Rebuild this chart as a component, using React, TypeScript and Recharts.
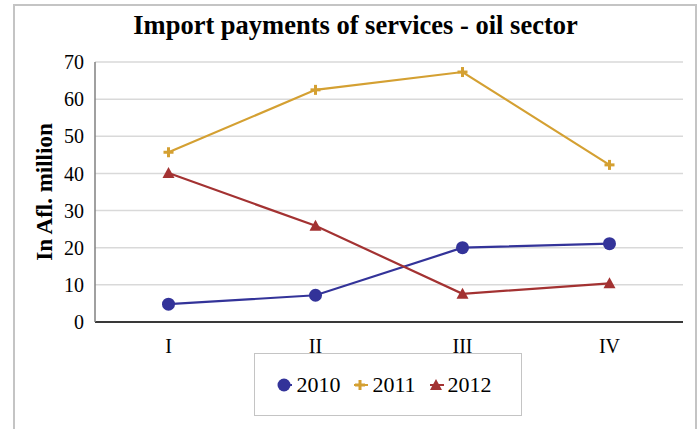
import { LineChart, Line, XAxis, YAxis, CartesianGrid } from "recharts"

const quarters = ["I", "II", "III", "IV"]
const values2010 = [4.8, 7.2, 20.0, 21.1]
const values2011 = [45.7, 62.5, 67.3, 42.3]
const values2012 = [40.1, 25.9, 7.6, 10.4]
const yTicks = [0, 10, 20, 30, 40, 50, 60, 70]

const data = quarters.map((q, i) => ({
  quarter: q,
  y2010: values2010[i],
  y2011: values2011[i],
  y2012: values2012[i],
}))

const BLUE = "#333399"
const GOLD = "#D4A032"
const RED = "#A33232"
const FONT = "'Liberation Serif', 'Times New Roman', serif"

const CircleDot = (props: any) => {
  const { cx, cy } = props
  if (cx == null || cy == null) return null
  return <circle cx={cx} cy={cy} r={6.5} fill={BLUE} />
}

const PlusDot = (props: any) => {
  const { cx, cy } = props
  if (cx == null || cy == null) return null
  return (
    <g fill={GOLD}>
      <rect x={cx - 5} y={cy - 1.5} width={10} height={3} />
      <rect x={cx - 1.5} y={cy - 5} width={3} height={10} />
    </g>
  )
}

const TriangleDot = (props: any) => {
  const { cx, cy } = props
  if (cx == null || cy == null) return null
  return <path d={`M${cx},${cy - 6} L${cx + 6},${cy + 5} L${cx - 6},${cy + 5} Z`} fill={RED} />
}

function LegendItem({ color, label, kind }: { color: string; label: string; kind: string }) {
  return (
    <span style={{ display: "inline-flex", alignItems: "center", marginRight: 10 }}>
      <svg width={20} height={16} style={{ marginRight: 2 }}>
        <line x1={4} y1={8} x2={18} y2={8} stroke={color} strokeWidth={2} />
        {kind === "circle" && <circle cx={10} cy={8} r={6.5} fill={color} />}
        {kind === "plus" && (
          <g fill={color}>
            <rect x={5} y={6.5} width={10} height={3} />
            <rect x={8.5} y={3} width={3} height={10} />
          </g>
        )}
        {kind === "triangle" && <path d="M10,2 L16,13 L4,13 Z" fill={color} />}
      </svg>
      {label}
    </span>
  )
}

export default function App() {
  return (
    <div style={{ position: "absolute", left: 0, top: 0, width: 699, height: 429, overflow: "hidden", background: "#fff", fontFamily: FONT }}>
      {/* outer chart frame */}
      <div style={{ position: "absolute", left: 13, top: 4, width: 680, height: 440, border: "2px solid #c4c4c4" }} />
      <div style={{ position: "absolute", left: 0, top: 10, width: 711, textAlign: "center", fontSize: 26.5, fontWeight: "bold", color: "#000" }}>
        Import payments of services - oil sector
      </div>
      <div
        style={{
          position: "absolute",
          left: 45,
          top: 192,
          transform: "translate(-50%, -50%) rotate(-90deg)",
          whiteSpace: "nowrap",
          fontSize: 23,
          fontWeight: "bold",
        }}
      >
        In Afl. million
      </div>
      <div style={{ position: "absolute", left: 0, top: 0 }}>
        <LineChart width={699} height={429} data={data} margin={{ top: 62, right: 16, bottom: 77, left: 35 }}>
          <CartesianGrid horizontal vertical={false} stroke="#d9d9d9" strokeWidth={1.5} />
          <XAxis
            dataKey="quarter"
            padding={{ left: 73.5, right: 73.5 }}
            axisLine={{ stroke: "#000", strokeWidth: 1.5 }}
            tickLine={false}
            tickSize={0}
            tickMargin={17}
            height={30}
            tick={{ fill: "#000", fontSize: 20, fontFamily: FONT }}
          />
          <YAxis
            domain={[0, 70]}
            ticks={yTicks}
            width={60}
            axisLine={{ stroke: "#808080", strokeWidth: 1.5 }}
            tickLine={false}
            tickSize={0}
            tickMargin={11}
            tick={{ fill: "#000", fontSize: 20, fontFamily: FONT }}
          />
          <Line type="linear" dataKey="y2010" stroke={BLUE} strokeWidth={2.2} dot={<CircleDot />} isAnimationActive={false} />
          <Line type="linear" dataKey="y2011" stroke={GOLD} strokeWidth={2.2} dot={<PlusDot />} isAnimationActive={false} />
          <Line type="linear" dataKey="y2012" stroke={RED} strokeWidth={2.2} dot={<TriangleDot />} isAnimationActive={false} />
        </LineChart>
      </div>
      <div
        style={{
          position: "absolute",
          left: 254,
          top: 353,
          width: 268,
          height: 63,
          border: "1px solid #c4c4c4",
          boxSizing: "border-box",
          display: "flex",
          alignItems: "center",
          justifyContent: "center",
          fontSize: 22,
          color: "#000",
        }}
      >
        <LegendItem color={BLUE} label="2010" kind="circle" />
        <LegendItem color={GOLD} label="2011" kind="plus" />
        <LegendItem color={RED} label="2012" kind="triangle" />
      </div>
    </div>
  )
}
